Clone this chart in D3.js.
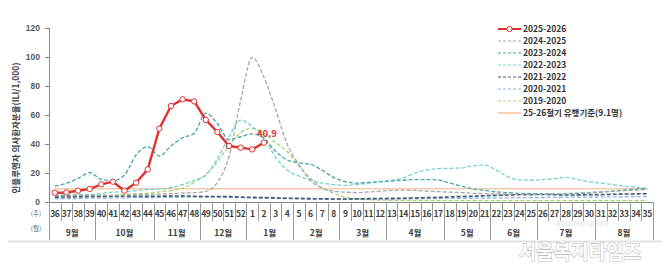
<!DOCTYPE html>
<html>
<head>
<meta charset="utf-8">
<script src="https://cdn.jsdelivr.net/npm/d3@7"></script>
<style>
  body { margin: 0; background: #fff; }
  svg { font-family: "Noto Sans CJK KR", "Noto Sans", sans-serif; }
</style>
</head>
<body>
<script>
// week categories (season runs week 36 -> week 35)
const weeks = [36,37,38,39,40,41,42,43,44,45,46,47,48,49,50,51,52,1,2,3,4,5,6,7,8,9,10,11,12,13,14,15,16,17,18,19,20,21,22,23,24,25,26,27,28,29,30,31,32,33,34,35];
const months = ['9월','10월','11월','12월','1월','2월','3월','4월','5월','6월','7월','8월'];
const monthWeeks = [4,5,4,4,4,4,4,5,4,4,5,5];
const yTicks = [0,20,40,60,80,100,120];

// series values (ILI per 1,000)
const s2526 = [6.4,6.6,7.8,9.0,12.2,14.0,7.8,13.3,22.5,50.6,66.2,70.8,69.4,56.6,48.3,38.6,37.5,36.3,40.9];
const s2425 = [4.6,4.4,4.5,4.7,4.6,4.4,4.8,5.0,5.2,5.5,5.8,6.2,6.4,7.3,13.6,31.3,70,99.8,86.1,64,40,26,15,9.5,7.5,6.8,6.5,6.9,7.5,8.0,8.2,8.0,7.6,7.2,6.8,6.5,6.0,5.8,5.6,5.5,5.4,5.3,5.4,5.6,5.9,6.2,6.6,7.0,7.4,7.8,8.2,8.6];
const s2324 = [11.0,12.9,16.3,20.2,15.6,14.7,18.6,32.4,38.1,31.7,38.6,44.3,47.4,61.3,54,43,45,47,44,35,29,27,26,22,17,14,13,13.5,14,14.5,15,15.5,15.5,15.2,13,11,9,8,7,6.5,6.0,5.8,5.6,5.5,5.6,5.8,6.2,6.8,7.5,8.2,8.8,9.2];
const s2223 = [4.7,5.1,5.3,5.2,6.0,6.8,7.1,7.9,8.6,9.0,10.0,12.0,15.0,18.5,30.0,45.0,56.5,52,44,31,22,18,15,13,12,11.5,12,13,14,15,16.5,20,22,23,23.2,23.5,25,25.5,22,17.5,15.2,15,15.5,16,17,15.5,14,13,12,11,10.2,9.4];
const s2122 = [3.3,3.5,3.6,3.8,3.9,4.0,4.1,4.0,3.9,4.0,4.1,4.2,4.0,3.8,3.8,3.7,3.4,3.2,3.0,2.8,2.6,2.5,2.3,2.2,2.1,2.1,2.2,2.3,2.4,2.5,2.6,2.8,3.0,3.2,3.5,3.8,4.0,4.3,4.6,4.8,5.0,5.1,5.2,5.0,4.8,4.9,5.0,5.1,5.3,5.5,5.6,5.7];
const s2021 = [2.2,2.3,2.4,2.6,2.7,2.8,2.9,3.0,3.1,3.1,3.2,3.3,3.3,3.4,3.3,3.2,3.0,2.8,2.7,2.5,2.3,2.1,2.0,1.9,1.9,1.8,1.8,1.9,2.0,2.0,2.1,2.2,2.3,2.4,2.5,2.6,2.6,2.7,2.8,2.9,3.0,3.0,3.1,3.2,3.3,3.3,3.4,3.5,3.5,3.6,3.7,3.8];
const s1920 = [3.5,3.9,4.0,4.2,4.5,4.8,5.1,5.7,6.0,7.0,7.8,9.5,13.5,19.0,27.8,39.0,48.0,50.8,47.4,41,35,25,16.5,10,6,3.2,2.2,1.6,1.3,1.2,1.1,1.0,1.0,1.0,1.0,1.0,1.0,1.0,1.0,1.0,1.0,1.0,1.0,1.0,1.0,1.0,1.0,1.0,1.0,1.0,1.0,1.0];
const threshold = 9.1;

const seasons = [
  {name: '2019-2020', values: s1920, color: '#a9d37c'},
  {name: '2020-2021', values: s2021, color: '#8db4e2'},
  {name: '2021-2022', values: s2122, color: '#44546a'},
  {name: '2022-2023', values: s2223, color: '#74d2d0'},
  {name: '2023-2024', values: s2324, color: '#4da4aa'},
  {name: '2024-2025', values: s2425, color: '#a6a6a6'}
];

const width = 662, height = 269;
const svg = d3.select('body').append('svg')
    .attr('width', width)
    .attr('height', height);

const x = d3.scaleBand().domain(weeks).range([49, 653]);
const y = d3.scaleLinear().domain([0, 120]).range([202, 28]);
const cx = (i) => x(weeks[i]) + x.bandwidth() / 2;

// bottom border of the picture
svg.append('line')
    .attr('x1', 8).attr('x2', width)
    .attr('y1', 241.5).attr('y2', 241.5)
    .attr('stroke', '#e3e3e3').attr('stroke-width', 2);

// y axis
const yAxis = svg.append('g')
    .attr('transform', 'translate(49,0)')
    .call(d3.axisLeft(y).tickValues(yTicks).tickSize(4).tickPadding(5));
yAxis.select('.domain').remove();
yAxis.selectAll('line').attr('stroke', '#888');
yAxis.selectAll('text')
    .attr('fill', '#595959')
    .style('font-size', '8.5px')
    .style('font-weight', 'bold');
svg.append('line')
    .attr('x1', 49.5).attr('x2', 49.5)
    .attr('y1', y(120)).attr('y2', 240)
    .attr('stroke', '#888');

svg.append('text')
    .attr('transform', 'translate(19,128) rotate(-90)')
    .attr('text-anchor', 'middle')
    .attr('fill', '#404040')
    .style('font-size', '8.5px')
    .style('font-weight', 'bold')
    .text('인플루엔자 의사환자분율(ILI/1,000)');

// x axis table
svg.append('line')
    .attr('x1', 49).attr('x2', 653)
    .attr('y1', 202.5).attr('y2', 202.5)
    .attr('stroke', '#888');

svg.append('g').selectAll('line')
    .data(weeks.slice(1))
    .join('line')
    .attr('x1', (d) => Math.round(x(d)) + 0.5)
    .attr('x2', (d) => Math.round(x(d)) + 0.5)
    .attr('y1', 202).attr('y2', 221)
    .attr('stroke', '#999');

svg.append('g').selectAll('text')
    .data(weeks)
    .join('text')
    .attr('x', (d) => x(d) + x.bandwidth() / 2)
    .attr('y', 217)
    .attr('text-anchor', 'middle')
    .attr('fill', '#404040')
    .style('font-size', '8.5px')
    .style('font-weight', 'bold')
    .style('letter-spacing', '-0.4px')
    .text((d) => d);

const monthStart = d3.cumsum([0].concat(monthWeeks));
svg.append('g').selectAll('line')
    .data(monthStart)
    .join('line')
    .attr('x1', (d) => Math.round(d < 52 ? x(weeks[d]) : 653) + 0.5)
    .attr('x2', (d) => Math.round(d < 52 ? x(weeks[d]) : 653) + 0.5)
    .attr('y1', 202).attr('y2', 240)
    .attr('stroke', '#999');

svg.append('g').selectAll('text')
    .data(months)
    .join('text')
    .attr('x', (d, i) => (x(weeks[monthStart[i]]) + (monthStart[i + 1] < 52 ? x(weeks[monthStart[i + 1]]) : 653)) / 2)
    .attr('y', 236)
    .attr('text-anchor', 'middle')
    .attr('fill', '#404040')
    .style('font-size', '8.5px')
    .style('font-weight', 'bold')
    .text((d) => d);

svg.append('text').attr('x', 36).attr('y', 216).attr('text-anchor', 'middle')
    .attr('fill', '#595959').style('font-size', '6.5px').text('(주)');
svg.append('text').attr('x', 36).attr('y', 231).attr('text-anchor', 'middle')
    .attr('fill', '#595959').style('font-size', '6.5px').text('(월)');

// threshold
svg.append('line')
    .attr('x1', cx(0)).attr('x2', cx(51))
    .attr('y1', y(threshold)).attr('y2', y(threshold))
    .attr('stroke', '#f4b183').attr('stroke-width', 1);

// past seasons
const smooth = d3.line()
    .x((d, i) => cx(i))
    .y((d) => y(d))
    .curve(d3.curveMonotoneX);

svg.append('g').selectAll('path')
    .data(seasons)
    .join('path')
    .attr('d', (d) => smooth(d.values))
    .attr('fill', 'none')
    .attr('stroke', (d) => d.color)
    .attr('stroke-width', (d) => d.name === '2021-2022' ? 1.6 : 1.3)
    .attr('stroke-dasharray', '4,2');

// current season
const straight = d3.line()
    .x((d, i) => cx(i))
    .y((d) => y(d));

svg.append('path')
    .attr('d', straight(s2526))
    .attr('fill', 'none')
    .attr('stroke', '#e0312f')
    .attr('stroke-width', 2.4);

svg.append('g').selectAll('circle')
    .data(s2526)
    .join('circle')
    .attr('cx', (d, i) => cx(i))
    .attr('cy', (d) => y(d))
    .attr('r', 2.7)
    .attr('fill', '#fff')
    .attr('stroke', '#e0312f')
    .attr('stroke-width', 1);

const last = s2526.length - 1;
svg.append('text')
    .attr('x', cx(last) + 3)
    .attr('y', y(s2526[last]) - 6)
    .attr('text-anchor', 'middle')
    .attr('fill', '#e0312f')
    .style('font-size', '9.5px')
    .style('font-weight', 'bold')
    .text(s2526[last].toFixed(1));

// legend
const legendItems = [{name: '2025-2026', color: '#e0312f', current: true}]
    .concat(seasons.slice().reverse())
    .concat([{name: '25-26절기 유행기준(9.1명)', color: '#f4b183', solid: true}]);

const legend = svg.append('g');
legendItems.forEach((d, i) => {
  const ly = 29 + i * 12;
  legend.append('line')
      .attr('x1', 498).attr('x2', 521)
      .attr('y1', ly).attr('y2', ly)
      .attr('stroke', d.color)
      .attr('stroke-width', d.current ? 2 : 1.2)
      .attr('stroke-dasharray', d.current || d.solid ? null : '3,2');
  if (d.current) {
    legend.append('circle')
        .attr('cx', 509.5).attr('cy', ly).attr('r', 2.6)
        .attr('fill', '#fff').attr('stroke', d.color);
  }
  legend.append('text')
      .attr('x', 523).attr('y', ly + 3.2)
      .attr('fill', '#333')
      .style('font-size', '8.5px')
      .style('font-weight', 'bold')
      .text(d.name);
});

// watermark
svg.append('text')
    .attr('x', 582).attr('y', 225.5)
    .attr('text-anchor', 'middle')
    .attr('fill', '#d8d8d8')
    .style('font-size', '5.5px')
    .text('사람이 먼저인 대한민국');
svg.append('text')
    .attr('x', 580).attr('y', 259)
    .attr('text-anchor', 'middle')
    .attr('fill', '#fff')
    .attr('stroke', '#bdbdbd')
    .attr('stroke-width', 1.2)
    .attr('paint-order', 'stroke')
    .style('font-size', '19px')
    .style('font-weight', 'bold')
    .text('서울복지타임즈');
</script>
</body>
</html>
